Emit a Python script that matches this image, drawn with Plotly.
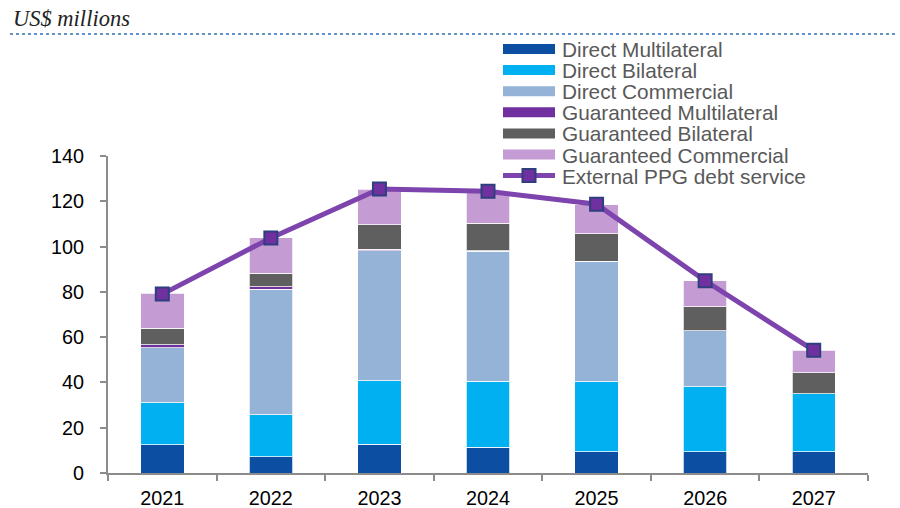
import plotly.graph_objects as go

# Annual external PPG debt service by creditor type, US$ millions
years = ["2021", "2022", "2023", "2024", "2025", "2026", "2027"]

direct_multilateral = [12.4, 7.2, 12.7, 11.3, 9.4, 9.4, 9.4]
direct_bilateral = [18.6, 18.6, 28.1, 29.2, 30.9, 28.7, 25.6]
direct_commercial = [24.4, 55.3, 57.3, 57.5, 53.2, 24.8, 0.0]
guaranteed_multilateral = [1.3, 1.2, 0.7, 0.2, 0.0, 0.0, 0.0]
guaranteed_bilateral = [7.3, 6.0, 10.9, 12.2, 12.1, 10.6, 9.3]
guaranteed_commercial = [15.3, 15.5, 15.6, 13.4, 12.9, 11.4, 10.0]
external_ppg_debt_service = [79.0, 103.8, 125.4, 124.4, 118.7, 84.9, 54.2]

series = [
    ("Direct Multilateral", direct_multilateral, "#0B4EA2"),
    ("Direct Bilateral", direct_bilateral, "#00B0F0"),
    ("Direct Commercial", direct_commercial, "#95B3D7"),
    ("Guaranteed Multilateral", guaranteed_multilateral, "#7030A0"),
    ("Guaranteed Bilateral", guaranteed_bilateral, "#5F5F5F"),
    ("Guaranteed Commercial", guaranteed_commercial, "#C59BD3"),
]
line_name = "External PPG debt service"
line_color = "#7E44AD"
marker_fill = "#7030A0"
marker_edge = "#2E3F7F"

W, H = 900, 508
PX0, PX1, PY0, PY1 = 108, 868, 156, 473  # plot area in pixels


def fx(px):
    return (px - PX0) / (PX1 - PX0)


def fy(py):
    return (PY1 - py) / (PY1 - PY0)


fig = go.Figure()
for name, vals, color in series:
    fig.add_trace(go.Bar(
        x=years, y=vals, name=name, width=0.4,
        marker=dict(color=color, line=dict(color="rgba(255,255,255,0.75)", width=1)),
        showlegend=False,
    ))

fig.add_trace(go.Scatter(
    x=years, y=external_ppg_debt_service, name=line_name, mode="lines+markers",
    line=dict(color=line_color, width=5),
    marker=dict(symbol="square", size=13, color=marker_fill,
                line=dict(color=marker_edge, width=2)),
    showlegend=False,
))

shapes = []
annotations = []
legend_font = dict(family="Arial, Liberation Sans", size=20.8, color="#595959")

# Legend drawn as swatches and labels beside the plot
row0, step = 49, 21.1
for i, (name, _, color) in enumerate(series):
    cy = row0 + i * step
    shapes.append(dict(type="rect", xref="paper", yref="paper",
                       x0=fx(503), x1=fx(555), y0=fy(cy + 5), y1=fy(cy - 5),
                       fillcolor=color, line=dict(width=0), layer="above"))
    annotations.append(dict(text=name, xref="paper", yref="paper", x=fx(561), y=fy(cy),
                            xanchor="left", yanchor="middle", showarrow=False,
                            height=20, borderpad=0, valign="middle", font=legend_font))
cy = row0 + 6 * step
shapes.append(dict(type="line", xref="paper", yref="paper",
                   x0=fx(503), x1=fx(555), y0=fy(cy), y1=fy(cy),
                   line=dict(color=line_color, width=5), layer="above"))
shapes.append(dict(type="rect", xref="paper", yref="paper",
                   x0=fx(522.5), x1=fx(535.5), y0=fy(cy + 6.5), y1=fy(cy - 6.5),
                   fillcolor=marker_fill, line=dict(color=marker_edge, width=2), layer="above"))
annotations.append(dict(text=line_name, xref="paper", yref="paper", x=fx(561), y=fy(cy),
                        xanchor="left", yanchor="middle", showarrow=False,
                        height=20, borderpad=0, valign="middle", font=legend_font))

# Units caption and dotted rule
annotations.append(dict(text="<i>US$ millions</i>", xref="paper", yref="paper",
                        x=fx(11), y=fy(18), xanchor="left", yanchor="middle", showarrow=False,
                        font=dict(family="Liberation Serif, Times New Roman", size=22.5, color="#222222")))
shapes.append(dict(type="line", xref="paper", yref="paper",
                   x0=fx(10), x1=fx(897), y0=fy(34), y1=fy(34),
                   line=dict(color="#2E6DB8", width=1.5, dash="dot")))

axis_color = "#8C8C8C"
tick_font = dict(family="Arial, Liberation Sans", size=19.8, color="black")
fig.update_layout(
    width=W, height=H,
    margin=dict(l=PX0, r=W - PX1, t=PY0, b=H - PY1, pad=0, autoexpand=False),
    barmode="stack", bargap=0.6,
    plot_bgcolor="white", paper_bgcolor="white",
    shapes=shapes, annotations=annotations,
    xaxis=dict(type="category", automargin=False, showgrid=False, showline=True,
               linecolor=axis_color, linewidth=2,
               ticks="outside", tickson="boundaries", ticklen=6, tickwidth=2, tickcolor=axis_color,
               tickfont=tick_font, ticklabelstandoff=6),
    yaxis=dict(range=[0, 140], dtick=20, automargin=False, showgrid=False, zeroline=False,
               showline=True, linecolor=axis_color, linewidth=2, ticks="outside", ticklen=6,
               tickwidth=2, tickcolor=axis_color, tickfont=tick_font, ticklabelstandoff=12),
)

fig.write_html("out.html")
